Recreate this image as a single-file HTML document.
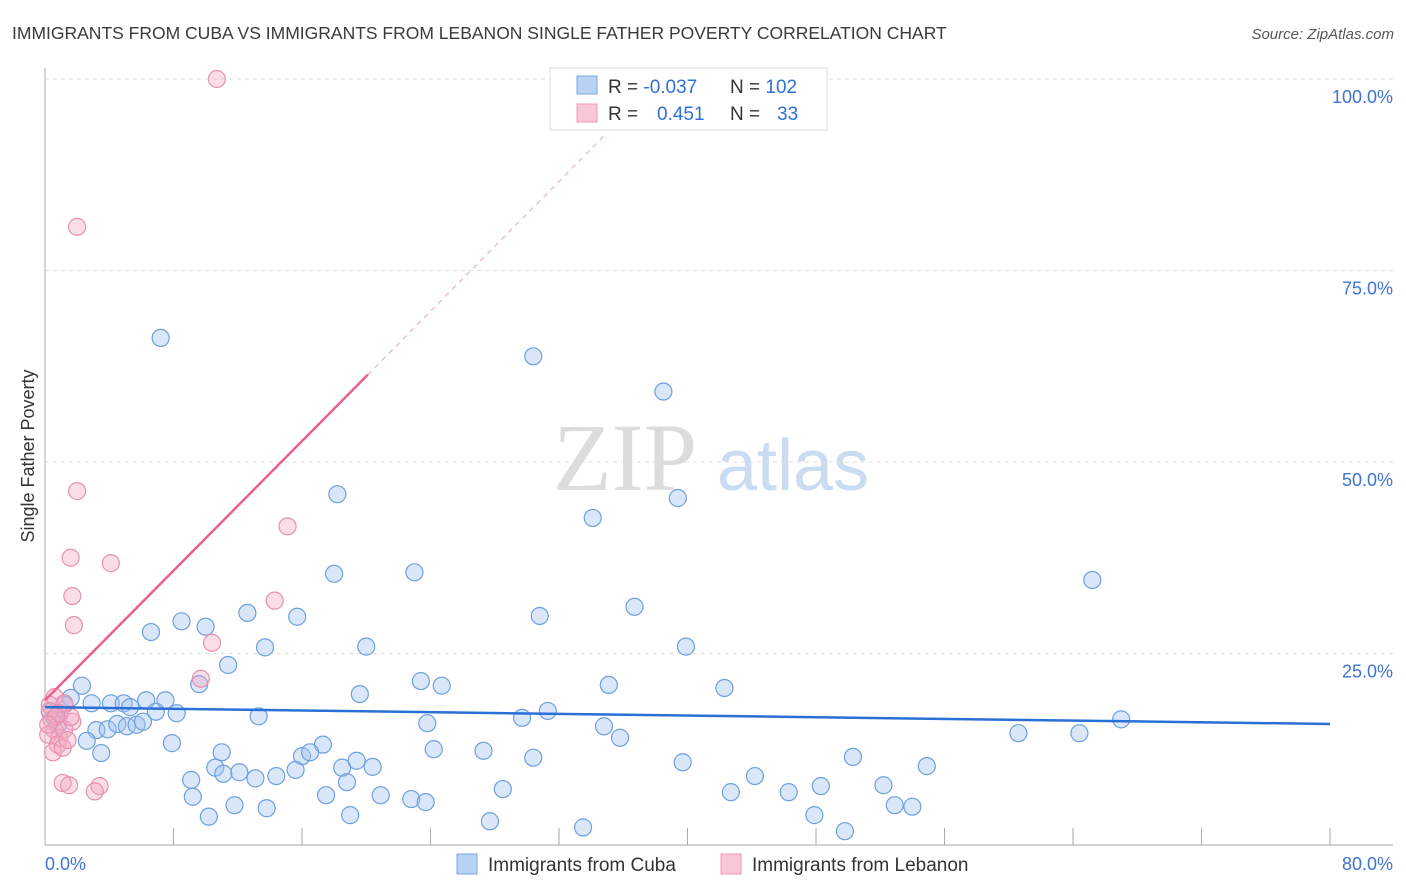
<!DOCTYPE html>
<html><head><meta charset="utf-8"><style>
body{margin:0;background:#fff;font-family:"Liberation Sans",sans-serif}
svg{display:block}
</style></head><body>
<svg id="c" width="1406" height="892">
<text x="12" y="39" font-size="17.5" fill="#3a3a3a">IMMIGRANTS FROM CUBA VS IMMIGRANTS FROM LEBANON SINGLE FATHER POVERTY CORRELATION CHART</text>
<text x="1394" y="39" font-size="15" fill="#555" font-style="italic" text-anchor="end">Source: ZipAtlas.com</text>
<g><text x="553" y="490" font-size="96" fill="#dcdcdc" font-family="Liberation Serif,serif">ZIP</text><text x="717" y="490" font-size="72" fill="#c9dcf2">atlas</text></g>
<text transform="translate(34,456) rotate(-90)" font-size="18" fill="#333" text-anchor="middle">Single Father Poverty</text>
<g id="grid"></g><g id="pts"></g><g id="trend"></g>
<g>
<rect x="550" y="68" width="277" height="62" fill="#fff" stroke="#ddd"/>
<rect x="577" y="76" width="20" height="18" fill="#b9d3f5" stroke="#7aa6e0"/>
<rect x="577" y="104" width="20" height="18" fill="#f9c8d8" stroke="#eb9ab6"/>
<text x="608" y="93" font-size="19" fill="#333">R = <tspan fill="#2f6fd8">-0.037</tspan><tspan x="730">N = </tspan><tspan fill="#2f6fd8">102</tspan></text>
<text x="608" y="120" font-size="19" fill="#333">R = <tspan x="657" fill="#2f6fd8">0.451</tspan><tspan x="730">N = </tspan><tspan x="777" fill="#2f6fd8">33</tspan></text>
</g>
<g>
<rect x="457" y="854" width="20" height="20" fill="#b9d3f5" stroke="#7aa6e0"/>
<text x="488" y="871" font-size="19" fill="#333">Immigrants from Cuba</text>
<rect x="721" y="854" width="20" height="20" fill="#f9c8d8" stroke="#eb9ab6"/>
<text x="752" y="871" font-size="19" fill="#333">Immigrants from Lebanon</text>
</g>
</svg>
<script>
const yTicks=[25,50,75,100];
const yTickLabels=["25.0%","50.0%","75.0%","100.0%"];
const xEndLabels=["0.0%","80.0%"];
const cubaX=[7.2,30.4,38.5,18.2,39.4,34.1,65.2,18.0,23.0,30.8,36.7,12.6,15.7,6.6,8.5,10.0,13.7,20.0,39.9,11.4,9.6,2.3,19.6,23.4,24.7,35.1,42.3,1.6,2.9,4.1,4.9,5.3,6.3,7.5,6.9,8.2,13.3,23.8,29.7,31.3,34.8,35.8,60.6,64.4,67.0,3.2,3.9,4.5,5.1,5.7,6.1,2.6,7.9,3.5,11.0,16.0,17.3,16.5,24.2,27.3,30.4,39.7,50.3,54.9,10.6,11.1,12.1,13.1,14.4,15.6,18.5,19.4,20.4,9.1,18.8,44.2,52.2,48.3,9.2,17.5,20.9,22.8,23.7,28.5,42.7,46.3,11.8,13.8,52.9,54.0,19.0,10.2,27.7,47.9,33.5,49.8,0.6,0.9,1.2,0.3,0.8];
const cubaY=[66.2,63.8,59.2,45.8,45.3,42.7,34.6,35.4,35.6,29.9,31.1,30.3,29.8,27.8,29.2,28.5,25.8,25.9,25.9,23.5,21.0,20.8,19.7,21.4,20.8,20.9,20.5,19.2,18.5,18.5,18.5,18.0,18.9,18.9,17.4,17.2,16.8,15.9,16.6,17.5,15.5,14.0,14.6,14.6,16.4,15.0,15.1,15.8,15.5,15.7,16.1,13.6,13.3,12.0,12.1,11.6,13.1,12.1,12.5,12.3,11.4,10.8,11.5,10.3,10.1,9.3,9.5,8.7,9.0,9.8,10.1,11.0,10.2,8.5,8.2,9.0,7.8,7.7,6.3,6.5,6.5,6.0,5.6,7.3,6.9,6.9,5.2,4.8,5.2,5.0,3.9,3.7,3.1,3.9,2.3,1.8,16.6,17.1,18.3,17.4,15.7];
const lebX=[10.7,2.0,2.0,15.1,1.6,4.1,1.7,14.3,1.8,10.4,9.7,0.6,1.2,0.3,1.7,0.9,0.4,0.6,0.2,0.9,1.2,0.8,0.5,1.1,1.4,1.6,1.1,1.5,3.4,3.1,0.3,0.7,0.2];
const lebY=[100,80.7,46.2,41.6,37.5,36.8,32.5,31.9,28.7,26.4,21.7,19.3,18.5,18.3,16.1,17.2,16.3,15.0,14.4,14.0,15.1,13.1,12.1,12.7,13.7,16.7,8.1,7.8,7.7,7.0,17.5,16.8,15.7];
const cubaTrend=[18.0,15.8];
const lebTrendX=[0,20.1,35];
const lebTrendY=[18.9,61.4,93];
const NS="http://www.w3.org/2000/svg";
const sx=v=>45+v/80*1285, sy=v=>845-v/100*766;
function mk(t,a,p){const e=document.createElementNS(NS,t);for(const k in a)e.setAttribute(k,a[k]);p.appendChild(e);return e;}
const grid=document.getElementById('grid');
yTicks.forEach((t,i)=>{
 const l=mk('line',{x1:45,x2:1393,y1:sy(t),y2:sy(t),stroke:'#ddd','stroke-dasharray':'4,4'},grid);
 
 
 const tx=mk('text',{x:1393,y:sy(t)+24,'font-size':18,fill:'#3f73d4','text-anchor':'end'},grid);tx.textContent=yTickLabels[i];
 
 
});
const ax=mk('line',{x1:45,x2:45,y1:68,y2:845,stroke:'#aaa'},grid);


const bx=mk('line',{x1:45,x2:1393,y1:845,y2:845,stroke:'#aaa'},grid);


for(let i=0;i<=10;i++){const t=mk('line',{x1:sx(i*8),x2:sx(i*8),y1:828,y2:845,stroke:'#aaa'},grid);
 
 }
[[0,'start',45],[80,'end',1393]].forEach((d,i)=>{const t=mk('text',{x:d[2],y:870,'font-size':18,fill:'#3f73d4','text-anchor':d[1]},grid);t.textContent=xEndLabels[i];
 
 });
const pts=document.getElementById('pts');
cubaX.forEach((x,i)=>{const c=mk('circle',{cx:sx(x),cy:sy(cubaY[i]),r:8.5,fill:'rgba(160,196,240,0.4)',stroke:'#6e9fe0','stroke-width':1.2},pts);
 
 });
lebX.forEach((x,i)=>{const c=mk('circle',{cx:sx(x),cy:sy(lebY[i]),r:8.5,fill:'rgba(245,170,195,0.4)',stroke:'#e890b0','stroke-width':1.2},pts);
 
 });
const tr=document.getElementById('trend');
const t1=mk('line',{x1:sx(0),y1:sy(cubaTrend[0]),x2:sx(80),y2:sy(cubaTrend[1]),stroke:'#2a6fd6','stroke-width':2.5},tr);


const t2=mk('line',{x1:sx(lebTrendX[0]),y1:sy(lebTrendY[0]),x2:sx(lebTrendX[1]),y2:sy(lebTrendY[1]),stroke:'#e8608e','stroke-width':2.5},tr);


const t3=mk('line',{x1:sx(lebTrendX[1]),y1:sy(lebTrendY[1]),x2:sx(lebTrendX[2]),y2:sy(lebTrendY[2]),stroke:'#e8a0b8','stroke-width':1,'stroke-dasharray':'5,5'},tr);


</script>
</body></html>
